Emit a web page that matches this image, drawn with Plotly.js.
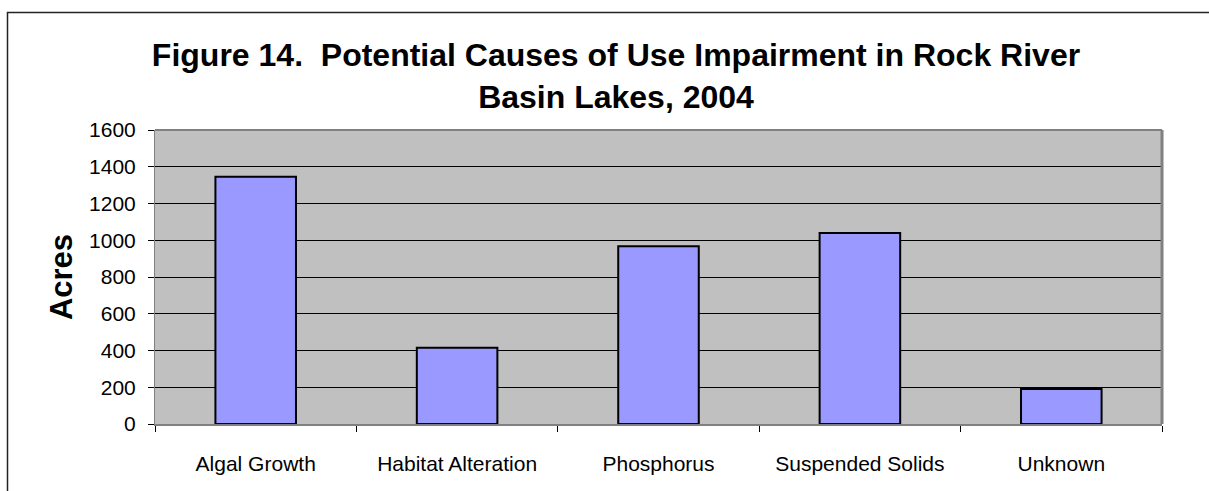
<!DOCTYPE html>
<html>
<head>
<meta charset="utf-8">
<script src="https://cdn.plot.ly/plotly-3.0.1.min.js"></script>
<style>
html,body{margin:0;padding:0;background:#fff;}
#chart{width:1209px;height:491px;}
</style>
</head>
<body>
<div id="chart"></div>
<script>
var categories = ["Algal Growth", "Habitat Alteration", "Phosphorus", "Suspended Solids", "Unknown"];
var acres = [1345, 415, 967, 1040, 190];
var yTicks = [0, 200, 400, 600, 800, 1000, 1200, 1400, 1600];

var W = 1209, H = 491;
var L = 155, R = 47, T = 130, B = 67;
var pw = W - L - R, ph = H - T - B;
function px(x){ return (x - L) / pw; }
function py(y){ return (H - B - y) / ph; }

var trace = {
  type: "bar",
  x: categories,
  y: acres,
  marker: {color: "#9999FF", line: {color: "#000000", width: 2}},
  hoverinfo: "x+y"
};

var layout = {
  width: W, height: H,
  margin: {l: L, r: R, t: T, b: B, pad: 0},
  paper_bgcolor: "#ffffff",
  plot_bgcolor: "#C0C0C0",
  bargap: 0.6,
  showlegend: false,
  font: {family: "Liberation Sans, Arial, sans-serif", color: "#000"},
  title: {
    text: "Figure 14.  Potential Causes of Use Impairment in Rock River<br>Basin Lakes, 2004",
    font: {size: 32, family: "Liberation Sans, Arial, sans-serif", color: "#000", weight: "bold"},
    xref: "paper", x: px(616), xanchor: "center",
    yref: "container", y: 1 - 66 / H, yanchor: "middle"
  },
  xaxis: {
    type: "category",
    tickson: "boundaries",
    ticks: "outside", ticklen: 6, tickcolor: "#000", tickwidth: 1,
    showline: true, linecolor: "#808080", linewidth: 2,
    showgrid: false, zeroline: false,
    tickfont: {size: 21, color: "#000"},
    ticklabelstandoff: 20,
    fixedrange: true
  },
  yaxis: {
    range: [0, 1600],
    tickvals: yTicks,
    ticktext: yTicks.map(String),
    ticks: "outside", ticklen: 6, tickcolor: "#000", tickwidth: 1,
    showline: true, linecolor: "#808080", linewidth: 1,
    showgrid: true, gridcolor: "#000000", gridwidth: 1,
    zeroline: false,
    tickfont: {size: 21, color: "#000"},
    ticklabelstandoff: 8,
    title: {text: "Acres", font: {size: 31, color: "#000", weight: "bold"}, standoff: 7},
    fixedrange: true
  },
  shapes: [
    {type: "line", xref: "paper", yref: "paper", x0: 0, x1: 1, y0: 1, y1: 1,
     line: {color: "#808080", width: 2}},
    {type: "line", xref: "paper", yref: "paper", x0: 1, x1: 1, y0: 0, y1: 1,
     line: {color: "#808080", width: 3}},
    {type: "rect", xref: "paper", yref: "paper",
     x0: px(7.5), x1: px(1230), y0: py(H + 20), y1: py(12.5),
     line: {color: "#222", width: 1.5}, fillcolor: "rgba(0,0,0,0)", layer: "above"}
  ]
};

Plotly.newPlot("chart", [trace], layout, {displayModeBar: false, staticPlot: true});
</script>
</body>
</html>
